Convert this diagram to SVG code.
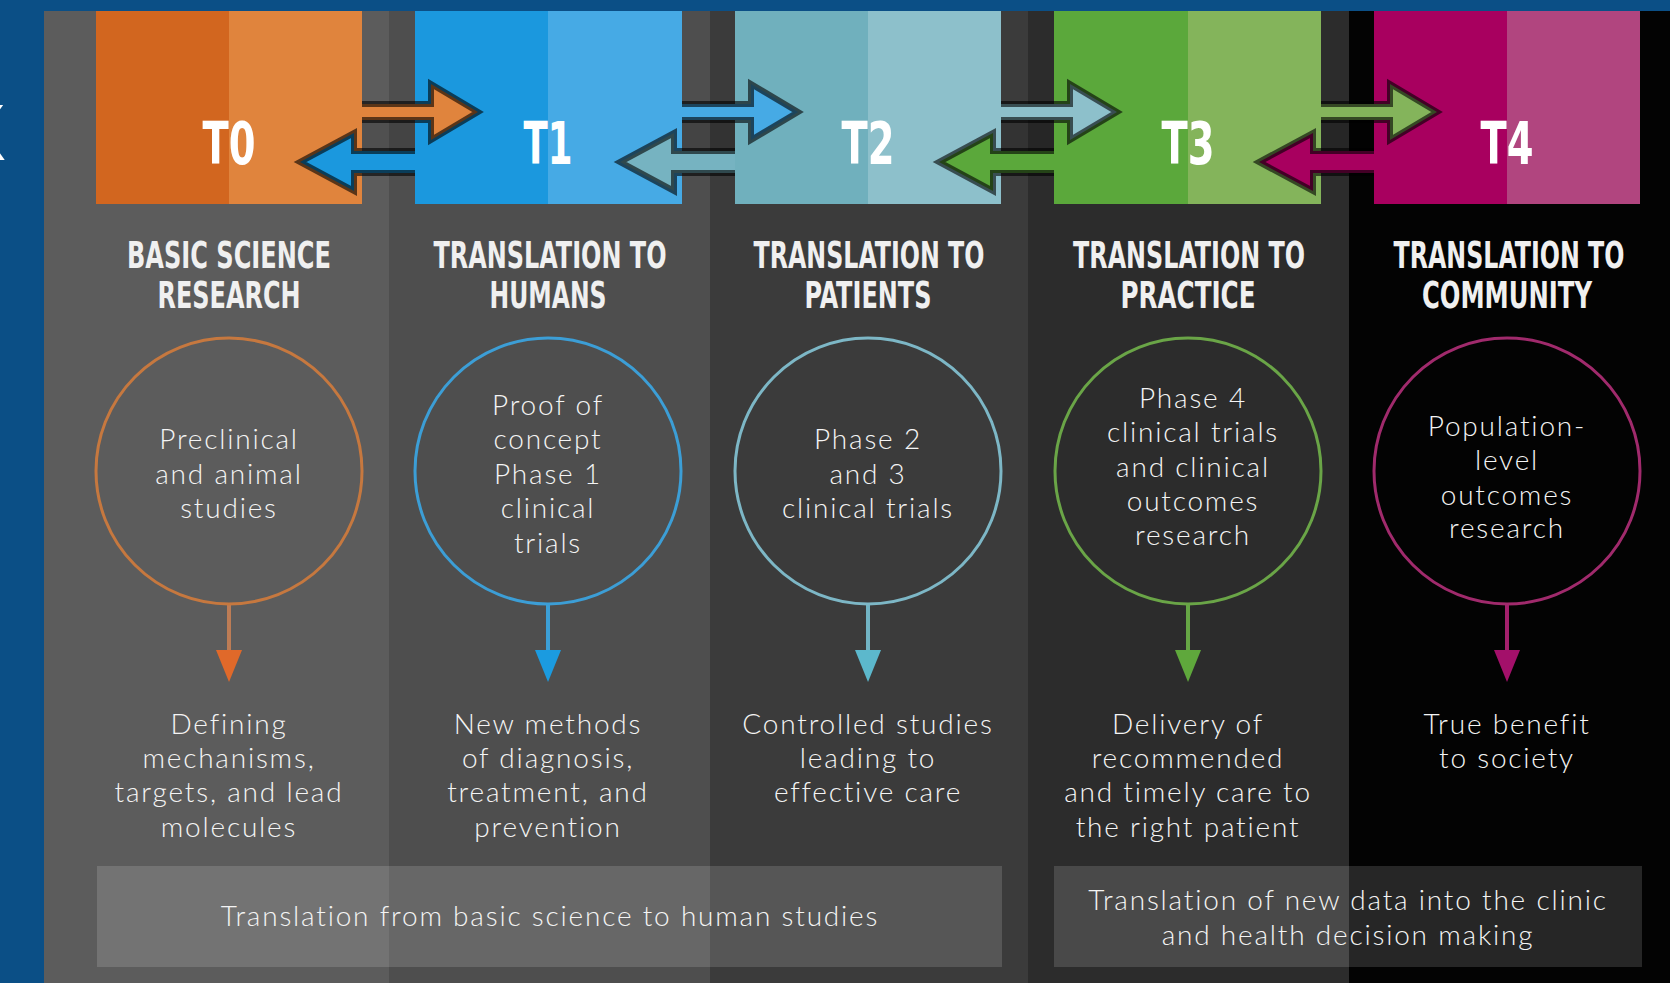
<svg xmlns="http://www.w3.org/2000/svg" width="1670" height="983" viewBox="0 0 1670 983">
  <defs>
    <style>
      .hdr { font-family: "Liberation Sans Narrow", "DejaVu Sans Condensed", "Liberation Sans", sans-serif; font-weight: bold; fill: #f0f0f0; text-anchor: middle; font-size: 38px; }
      .tag { font-family: "Liberation Sans Narrow", "DejaVu Sans Condensed", "Liberation Sans", sans-serif; font-weight: bold; fill: #ffffff; text-anchor: middle; font-size: 58px; }
      .body { font-family: Lato, "Noto Sans", sans-serif; font-weight: 300; fill: #f4f4f4; text-anchor: middle; font-size: 28px; letter-spacing: 1.8px; }
      .ring { fill: none; stroke-width: 3; }
      .link { fill: none; stroke-width: 4; }
      .dbl { stroke: #000000; stroke-opacity: 0.6; stroke-width: 6; stroke-linejoin: miter; }
      .gap { fill: #000000; fill-opacity: 0.12; }
      .band { fill: #ffffff; fill-opacity: 0.14; }
    </style>
  </defs>

  <!-- frame -->
  <rect x="0" y="0" width="1670" height="983" fill="#0b4f86"/>
  <text x="-47" y="160" font-family="Liberation Sans, sans-serif" font-size="80" fill="#ffffff">X</text>

  <!-- column backgrounds -->
  <rect x="44" y="11" width="345" height="972" fill="#5c5c5c"/>
  <rect x="389" y="11" width="321" height="972" fill="#4e4e4e"/>
  <rect x="710" y="11" width="318" height="972" fill="#3b3b3b"/>
  <rect x="1028" y="11" width="321" height="972" fill="#2c2c2c"/>
  <rect x="1349" y="11" width="321" height="972" fill="#030303"/>

  <!-- stage blocks -->
  <g id="t0">
    <rect x="96" y="11" width="133" height="193" fill="#d2661f"/>
    <rect x="229" y="11" width="133" height="193" fill="#e0843d"/>
  </g>
  <g id="t1">
    <rect x="415" y="11" width="133" height="193" fill="#1b98de"/>
    <rect x="548" y="11" width="134" height="193" fill="#46aae5"/>
  </g>
  <g id="t2">
    <rect x="735" y="11" width="133" height="193" fill="#70b0bd"/>
    <rect x="868" y="11" width="133" height="193" fill="#8dc0cb"/>
  </g>
  <g id="t3">
    <rect x="1054" y="11" width="134" height="193" fill="#5ba83b"/>
    <rect x="1188" y="11" width="133" height="193" fill="#84b45b"/>
  </g>
  <g id="t4">
    <rect x="1374" y="11" width="133" height="193" fill="#a8005f"/>
    <rect x="1507" y="11" width="133" height="193" fill="#b1457f"/>
  </g>

  <!-- two-way arrows between stages -->
  <g id="connectors">
    <rect class="gap" x="362" y="120" width="53" height="31"/>
    <path class="dbl" fill="#e0843d" d="M362,104 L431,104 L431,84 L478,112 L431,140 L431,120 L362,120"/>
    <path class="dbl" fill="#1b98de" d="M415,151 L354,151 L354,133 L300,162 L354,191 L354,173 L415,173"/>

    <rect class="gap" x="682" y="120" width="53" height="31"/>
    <path class="dbl" fill="#46aae5" d="M682,104 L751,104 L751,84 L798,112 L751,140 L751,120 L682,120"/>
    <path class="dbl" fill="#76b3c1" d="M735,151 L674,151 L674,133 L620,162 L674,191 L674,173 L735,173"/>

    <rect class="gap" x="1001" y="120" width="53" height="31"/>
    <path class="dbl" fill="#8dc0cb" d="M1001,104 L1070,104 L1070,84 L1117,112 L1070,140 L1070,120 L1001,120"/>
    <path class="dbl" fill="#5ba83b" d="M1054,151 L993,151 L993,133 L939,162 L993,191 L993,173 L1054,173"/>

    <rect class="gap" x="1321" y="120" width="53" height="31"/>
    <path class="dbl" fill="#84b45b" d="M1321,104 L1390,104 L1390,84 L1437,112 L1390,140 L1390,120 L1321,120"/>
    <path class="dbl" fill="#a8005f" d="M1374,151 L1313,151 L1313,133 L1259,162 L1313,191 L1313,173 L1374,173"/>

    <!-- downward links from circles -->
    <line class="link" x1="229" y1="604" x2="229" y2="654" stroke="#bd7c55"/>
    <polygon points="216,650 242,650 229,682" fill="#e0692a"/>
    <line class="link" x1="548" y1="604" x2="548" y2="654" stroke="#3c9fd6"/>
    <polygon points="535,650 561,650 548,682" fill="#1b9be0"/>
    <line class="link" x1="868" y1="604" x2="868" y2="654" stroke="#72b4c4"/>
    <polygon points="855,650 881,650 868,682" fill="#5cb8cc"/>
    <line class="link" x1="1188" y1="604" x2="1188" y2="654" stroke="#66a645"/>
    <polygon points="1175,650 1201,650 1188,682" fill="#5fa83c"/>
    <line class="link" x1="1507" y1="604" x2="1507" y2="654" stroke="#a3206c"/>
    <polygon points="1494,650 1520,650 1507,682" fill="#a3106a"/>
  </g>

  <!-- stage T0 -->
  <g id="stage-t0">
    <text class="tag" x="229" y="164" textLength="53" lengthAdjust="spacingAndGlyphs">T0</text>
    <text class="hdr" x="229" y="268" textLength="204" lengthAdjust="spacingAndGlyphs">BASIC SCIENCE</text>
    <text class="hdr" x="229" y="308" textLength="143" lengthAdjust="spacingAndGlyphs">RESEARCH</text>
    <circle class="ring" cx="229" cy="471" r="133" stroke="#c6783f"/>
    <text class="body" x="229" y="449">Preclinical</text>
    <text class="body" x="229" y="484">and animal</text>
    <text class="body" x="229" y="518">studies</text>
    <text class="body" x="229" y="734">Defining</text>
    <text class="body" x="229" y="768">mechanisms,</text>
    <text class="body" x="229" y="802">targets, and lead</text>
    <text class="body" x="229" y="837">molecules</text>
  </g>

  <!-- stage T1 -->
  <g id="stage-t1">
    <text class="tag" x="548" y="164" textLength="49" lengthAdjust="spacingAndGlyphs">T1</text>
    <text class="hdr" x="550" y="268" textLength="233" lengthAdjust="spacingAndGlyphs">TRANSLATION TO</text>
    <text class="hdr" x="548" y="308" textLength="117" lengthAdjust="spacingAndGlyphs">HUMANS</text>
    <circle class="ring" cx="548" cy="471" r="133" stroke="#3c9ed6"/>
    <text class="body" x="548" y="415">Proof of</text>
    <text class="body" x="548" y="449">concept</text>
    <text class="body" x="548" y="484">Phase 1</text>
    <text class="body" x="548" y="518">clinical</text>
    <text class="body" x="548" y="553">trials</text>
    <text class="body" x="548" y="734">New methods</text>
    <text class="body" x="548" y="768">of diagnosis,</text>
    <text class="body" x="548" y="802">treatment, and</text>
    <text class="body" x="548" y="837">prevention</text>
  </g>

  <!-- stage T2 -->
  <g id="stage-t2">
    <text class="tag" x="868" y="164" textLength="53" lengthAdjust="spacingAndGlyphs">T2</text>
    <text class="hdr" x="869" y="268" textLength="231" lengthAdjust="spacingAndGlyphs">TRANSLATION TO</text>
    <text class="hdr" x="868" y="308" textLength="127" lengthAdjust="spacingAndGlyphs">PATIENTS</text>
    <circle class="ring" cx="868" cy="471" r="133" stroke="#7db7c6"/>
    <text class="body" x="868" y="449">Phase 2</text>
    <text class="body" x="868" y="484">and 3</text>
    <text class="body" x="868" y="518">clinical trials</text>
    <text class="body" x="868" y="734">Controlled studies</text>
    <text class="body" x="868" y="768">leading to</text>
    <text class="body" x="868" y="802">effective care</text>
  </g>

  <!-- stage T3 -->
  <g id="stage-t3">
    <text class="tag" x="1188" y="164" textLength="53" lengthAdjust="spacingAndGlyphs">T3</text>
    <text class="hdr" x="1189" y="268" textLength="232" lengthAdjust="spacingAndGlyphs">TRANSLATION TO</text>
    <text class="hdr" x="1188" y="308" textLength="135" lengthAdjust="spacingAndGlyphs">PRACTICE</text>
    <circle class="ring" cx="1188" cy="471" r="133" stroke="#6aa547"/>
    <text class="body" x="1193" y="408">Phase 4</text>
    <text class="body" x="1193" y="442">clinical trials</text>
    <text class="body" x="1193" y="477">and clinical</text>
    <text class="body" x="1193" y="511">outcomes</text>
    <text class="body" x="1193" y="545">research</text>
    <text class="body" x="1188" y="734">Delivery of</text>
    <text class="body" x="1188" y="768">recommended</text>
    <text class="body" x="1188" y="802">and timely care to</text>
    <text class="body" x="1188" y="837">the right patient</text>
  </g>

  <!-- stage T4 -->
  <g id="stage-t4">
    <text class="tag" x="1507" y="164" textLength="53" lengthAdjust="spacingAndGlyphs">T4</text>
    <text class="hdr" x="1509" y="268" textLength="231" lengthAdjust="spacingAndGlyphs">TRANSLATION TO</text>
    <text class="hdr" x="1507" y="308" textLength="170" lengthAdjust="spacingAndGlyphs">COMMUNITY</text>
    <circle class="ring" cx="1507" cy="471" r="133" stroke="#a02a6c"/>
    <text class="body" x="1507" y="436">Population-</text>
    <text class="body" x="1507" y="470">level</text>
    <text class="body" x="1507" y="505">outcomes</text>
    <text class="body" x="1507" y="538">research</text>
    <text class="body" x="1507" y="734">True benefit</text>
    <text class="body" x="1507" y="768">to society</text>
  </g>

  <!-- summary bands -->
  <g id="band-basic">
    <rect class="band" x="97" y="866" width="905" height="101"/>
    <text class="body" x="550" y="926">Translation from basic science to human studies</text>
  </g>
  <g id="band-clinic">
    <rect class="band" x="1054" y="866" width="588" height="101"/>
    <text class="body" x="1348" y="910">Translation of new data into the clinic</text>
    <text class="body" x="1348" y="945">and health decision making</text>
  </g>
</svg>
